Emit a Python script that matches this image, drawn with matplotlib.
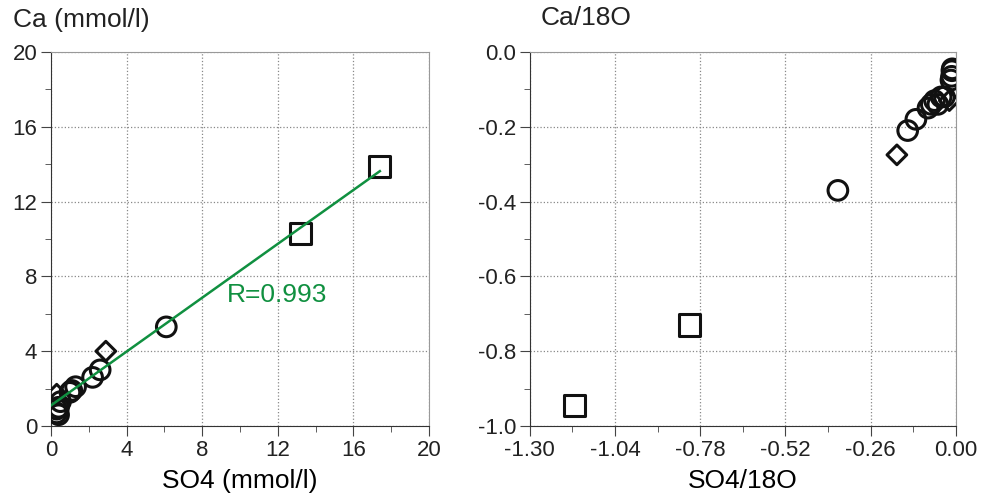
import numpy as np
import matplotlib
matplotlib.use("Agg")
import matplotlib.pyplot as plt
from matplotlib.ticker import MultipleLocator, FormatStrFormatter

plt.rcParams["font.family"] = ["Liberation Sans", "DejaVu Sans"]

# Ca vs SO4 (mmol/l), grouped by marker type
so4_sq = [17.4, 13.2]
ca_sq = [13.9, 10.3]
so4_ci = [6.1, 2.6, 2.2, 1.3, 1.0, 1.1, 0.5, 0.4, 0.3, 0.4, 0.3]
ca_ci = [5.3, 3.0, 2.6, 2.1, 1.8, 1.9, 1.3, 1.0, 0.7, 0.6, 0.9]
so4_di = [2.9, 0.3]
ca_di = [4.0, 1.7]

# regression line
fit_slope, fit_icpt = 0.72, 1.1
fit_x = [0.0, 17.4]
r_value = 0.993

# ratios to 18O
r_so4_sq = [-1.163, -0.812]
r_ca_sq = [-0.945, -0.73]
r_so4_ci = [-0.36, -0.147, -0.122, -0.085, -0.075, -0.065, -0.055, -0.045, -0.035,
            -0.015, -0.013, -0.012, -0.011]
r_ca_ci = [-0.37, -0.21, -0.18, -0.15, -0.14, -0.13, -0.14, -0.12, -0.12,
           -0.075, -0.065, -0.05, -0.045]
r_so4_di = [-0.18, -0.02]
r_ca_di = [-0.275, -0.13]

fig = plt.figure(figsize=(9.83, 4.94), dpi=100)
ax1 = fig.add_axes([0.0519, 0.1377, 0.3845, 0.757])
ax2 = fig.add_axes([0.539, 0.1377, 0.4334, 0.757])

mk = dict(facecolors="none", edgecolors="#111111", linewidths=2.2, zorder=3)

ax1.scatter(so4_sq, ca_sq, marker="s", s=230, **mk)
ax1.scatter(so4_ci, ca_ci, marker="o", s=200, **mk)
ax1.scatter(so4_di, ca_di, marker="D", s=100, **mk)
fx = np.array(fit_x)
ax1.plot(fx, fit_slope * fx + fit_icpt, color="#109040", lw=1.8, zorder=4)
ax1.text(9.3, 7.0, f"R={r_value}", color="#109040", fontsize=19, va="center")
ax1.set_xlim(0, 20); ax1.set_ylim(0, 20)
ax1.xaxis.set_major_locator(MultipleLocator(4)); ax1.xaxis.set_minor_locator(MultipleLocator(2))
ax1.yaxis.set_major_locator(MultipleLocator(4)); ax1.yaxis.set_minor_locator(MultipleLocator(2))
ax1.set_xlabel("SO4 (mmol/l)", fontsize=19, labelpad=6)

ax2.scatter(r_so4_sq, r_ca_sq, marker="s", s=230, **mk)
ax2.scatter(r_so4_ci, r_ca_ci, marker="o", s=200, **mk)
ax2.scatter(r_so4_di, r_ca_di, marker="D", s=100, **mk)
ax2.set_xlim(-1.30, 0.0); ax2.set_ylim(-1.0, 0.0)
ax2.xaxis.set_major_locator(MultipleLocator(0.26)); ax2.xaxis.set_minor_locator(MultipleLocator(0.13))
ax2.yaxis.set_major_locator(MultipleLocator(0.2)); ax2.yaxis.set_minor_locator(MultipleLocator(0.1))
ax2.xaxis.set_major_formatter(FormatStrFormatter("%.2f"))
ax2.yaxis.set_major_formatter(FormatStrFormatter("%.1f"))
ax2.set_xlabel("SO4/18O", fontsize=19, labelpad=6)

for ax in (ax1, ax2):
    ax.grid(True, which="major", ls=":", color="#888888", lw=0.9)
    ax.tick_params(which="both", direction="out", labelsize=16, color="#444444",
                   labelcolor="#222222")
    ax.tick_params(which="major", length=7, pad=3)
    ax.tick_params(which="minor", length=4)
    for s in ("top", "right"):
        ax.spines[s].set_color("#999999")
    for s in ("left", "bottom"):
        ax.spines[s].set_color("#333333")

fig.text(0.013, 0.96, "Ca (mmol/l)", fontsize=19, va="center", color="#222222")
fig.text(0.55, 0.963, "Ca/18O", fontsize=19, va="center", color="#222222")

fig.savefig("out.png", dpi=100)
